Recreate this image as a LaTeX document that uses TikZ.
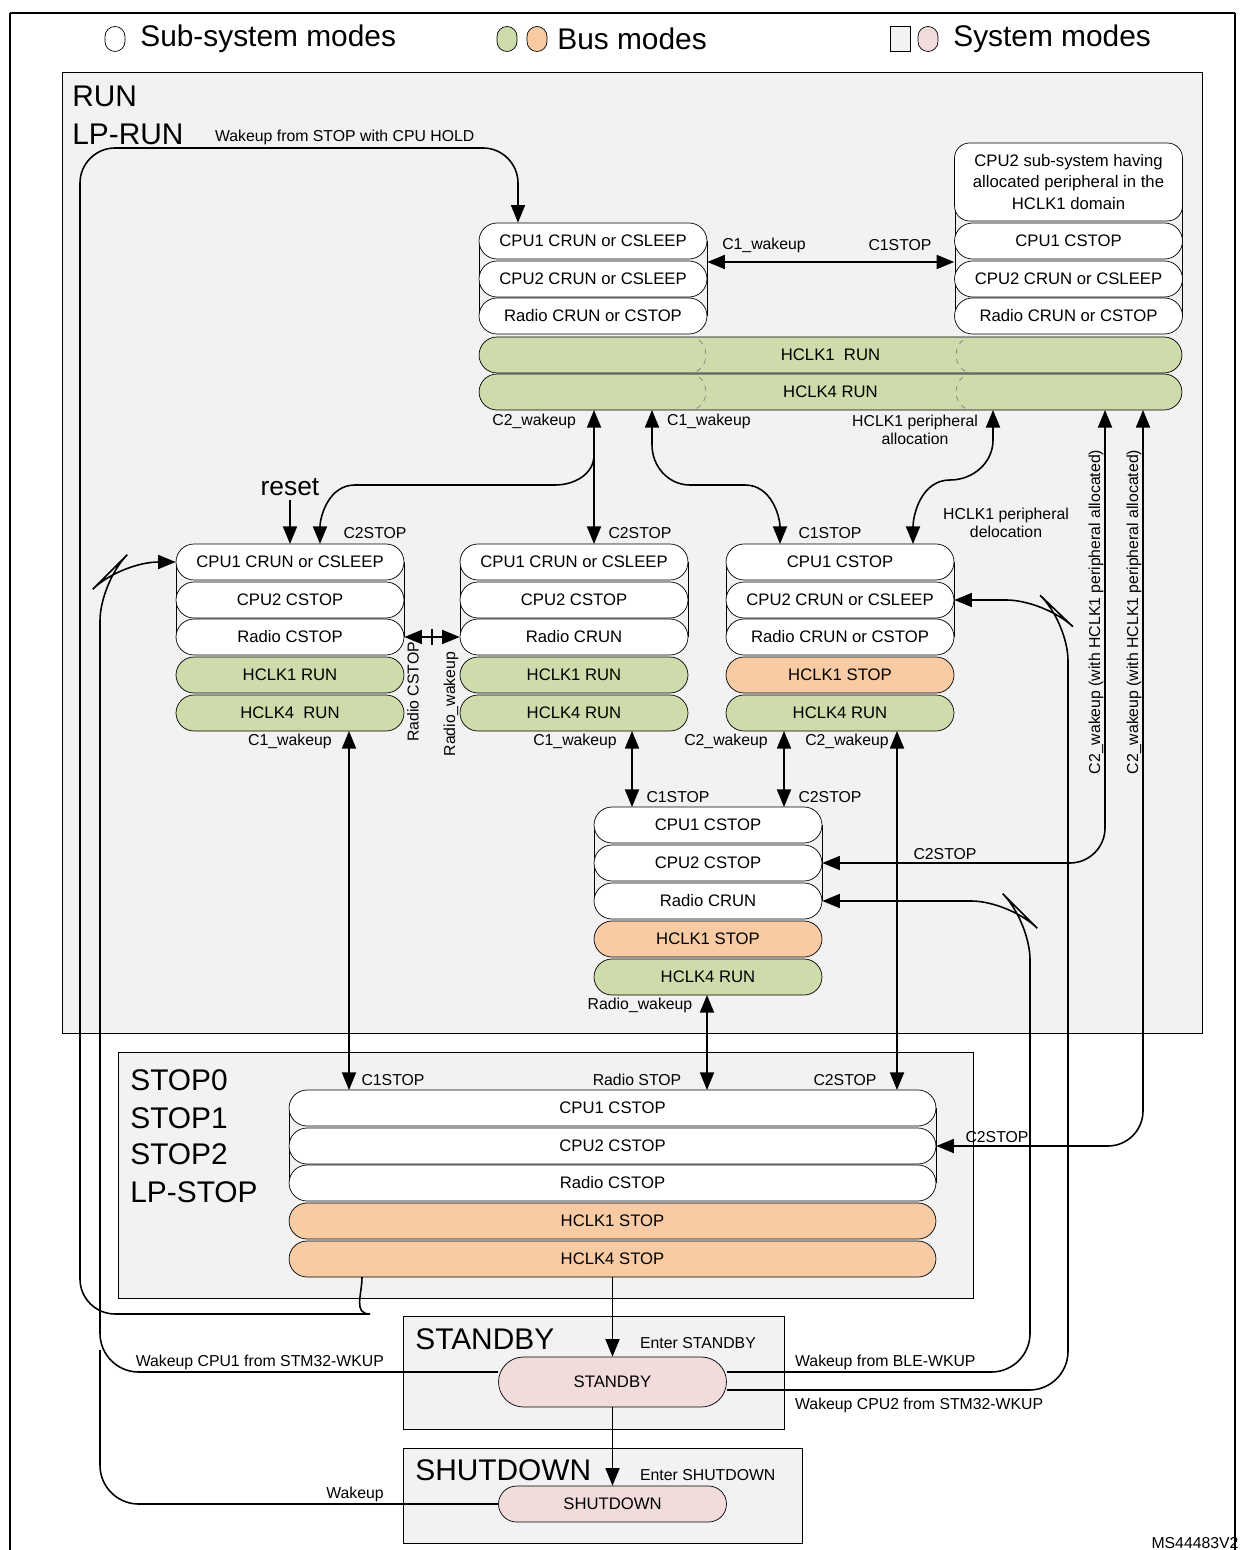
\documentclass[tikz,border=0pt]{standalone}
\usepackage{fontspec}
\setmainfont{Liberation Sans}
\usetikzlibrary{arrows.meta}
\definecolor{gbus}{HTML}{CDDCAA}
\definecolor{obus}{HTML}{F9CBA4}
\definecolor{psys}{HTML}{F2DCDB}
\definecolor{bsys}{HTML}{F2F2F2}
\tikzset{
 row/.style={draw,rounded corners=0.36cm,minimum height=0.72cm,inner sep=0pt,font=\fontsize{9.5}{11}\selectfont},
 w228/.style={minimum width=4.56cm},
 sysbox/.style={draw,fill=bsys},
 big/.style={font=\fontsize{17}{19}\selectfont,anchor=west,inner sep=0pt},
 lbl/.style={font=\fontsize{9}{10.5}\selectfont,inner sep=1pt},
 con/.style={line width=0.9pt},
 tip/.style={-{Triangle[length=10pt,width=8pt]}},
 both/.style={{Triangle[length=10pt,width=8pt]}-{Triangle[length=10pt,width=8pt]}},
 tipr/.style={{Triangle[length=10pt,width=8pt]}-},
}
\begin{document}
\begin{tikzpicture}[x=0.02cm,y=-0.02cm]
\useasboundingbox (0,0) rectangle (1242,1550);
\draw[line width=1pt] (10,13) -- (1235,13) (10,13) -- (10,1560) (1235,13) -- (1235,1560);
% legend
\node[draw,rounded corners=0.2cm,minimum width=0.4cm,minimum height=0.5cm,inner sep=0] (lg1) at (115,39) {};
\node[big] (lt1) at (140,39) {Sub-system modes};
\node[draw,fill=gbus,rounded corners=0.2cm,minimum width=0.4cm,minimum height=0.5cm,inner sep=0] (lg2) at (507,39) {};
\node[draw,fill=obus,rounded corners=0.2cm,minimum width=0.4cm,minimum height=0.5cm,inner sep=0] (lg3) at (537,39) {};
\node[big] (lt2) at (557,39) {Bus modes};
\node[draw,fill=bsys,minimum width=0.4cm,minimum height=0.5cm,inner sep=0] (lg4) at (900,39) {};
\node[draw,fill=psys,rounded corners=0.2cm,minimum width=0.4cm,minimum height=0.5cm,inner sep=0] (lg5) at (928,39) {};
\node[big] (lt3) at (953,39) {System modes};
% system boxes
\draw[sysbox] (62,72) rectangle (1202,1033);
\draw[sysbox] (118,1052) rectangle (973,1298);
\draw[sysbox] (403,1316) rectangle (784,1429);
\draw[sysbox] (403,1448) rectangle (802,1543);
\node[big] (trun) at (72,96) {RUN};
\node[big] (tlprun) at (72,134) {LP-RUN};
\node[big] (ts0) at (130,1080) {STOP0};
\node[big] (ts1) at (130,1118) {STOP1};
\node[big] (ts2) at (130,1154) {STOP2};
\node[big] (ts3) at (130,1192) {LP-STOP};
\node[big] (tsb) at (415,1339) {STANDBY};
\node[big] (tsd) at (415,1470) {SHUTDOWN};
% top stacks
\draw (479,241) -- (479,316) (707,241) -- (707,316);
\node[row,w228,fill=white] (t1) at (593,241) {CPU1 CRUN or CSLEEP};
\node[row,w228,fill=white] (t2) at (593,279) {CPU2 CRUN or CSLEEP};
\node[row,w228,fill=white] (t3) at (593,316) {Radio CRUN or CSTOP};
\draw (955,182) -- (955,316) (1182,182) -- (1182,316);
\node[draw,fill=white,rounded corners=0.3cm,minimum width=4.56cm,minimum height=1.56cm,align=center,font=\fontsize{9.5}{12}\selectfont,inner sep=0] (r0) at (1068.5,182) {CPU2 sub-system having\\allocated peripheral in the\\HCLK1 domain};
\node[row,w228,fill=white] (r1) at (1068.5,241) {CPU1 CSTOP};
\node[row,w228,fill=white] (r2) at (1068.5,279) {CPU2 CRUN or CSLEEP};
\node[row,w228,fill=white] (r3) at (1068.5,316) {Radio CRUN or CSTOP};
\node[row,minimum width=14.06cm,fill=gbus] (b1) at (830.5,355) {HCLK1\ \ RUN};
\node[row,minimum width=14.06cm,fill=gbus] (b2) at (830.5,392) {HCLK4 RUN};
\foreach \y in {337,374}{
 \draw[gray,dashed] (689,\y) to[out=0,in=0,looseness=1.6] (689,\y+36);
 \draw[gray,dashed] (973,\y) to[out=180,in=180,looseness=1.6] (973,\y+36);
}
% stack A
\draw (176,562) -- (176,637) (404,562) -- (404,637);
\node[row,w228,fill=white] (a1) at (290,562) {CPU1 CRUN or CSLEEP};
\node[row,w228,fill=white] (a2) at (290,600) {CPU2 CSTOP};
\node[row,w228,fill=white] (a3) at (290,637) {Radio CSTOP};
\node[row,w228,fill=gbus] (a4) at (290,675) {HCLK1 RUN};
\node[row,w228,fill=gbus] (a5) at (290,713) {HCLK4\ \ RUN};
% stack B
\draw (460,562) -- (460,637) (688,562) -- (688,637);
\node[row,w228,fill=white] (c1) at (574,562) {CPU1 CRUN or CSLEEP};
\node[row,w228,fill=white] (c2) at (574,600) {CPU2 CSTOP};
\node[row,w228,fill=white] (c3) at (574,637) {Radio CRUN};
\node[row,w228,fill=gbus] (c4) at (574,675) {HCLK1 RUN};
\node[row,w228,fill=gbus] (c5) at (574,713) {HCLK4 RUN};
% stack C
\draw (726,562) -- (726,637) (954,562) -- (954,637);
\node[row,w228,fill=white] (d1) at (840,562) {CPU1 CSTOP};
\node[row,w228,fill=white] (d2) at (840,600) {CPU2 CRUN or CSLEEP};
\node[row,w228,fill=white] (d3) at (840,637) {Radio CRUN or CSTOP};
\node[row,w228,fill=obus] (d4) at (840,675) {HCLK1 STOP};
\node[row,w228,fill=gbus] (d5) at (840,713) {HCLK4 RUN};
% stack D
\draw (594,825) -- (594,901) (822,825) -- (822,901);
\node[row,w228,fill=white] (e1) at (708,825) {CPU1 CSTOP};
\node[row,w228,fill=white] (e2) at (708,863) {CPU2 CSTOP};
\node[row,w228,fill=white] (e3) at (708,901) {Radio CRUN};
\node[row,w228,fill=obus] (e4) at (708,939) {HCLK1 STOP};
\node[row,w228,fill=gbus] (e5) at (708,977) {HCLK4 RUN};
% STOP stack
\draw (289,1108) -- (289,1183) (936,1108) -- (936,1183);
\node[row,minimum width=12.94cm,fill=white] (s1) at (612.5,1108) {CPU1 CSTOP};
\node[row,minimum width=12.94cm,fill=white] (s2) at (612.5,1146) {CPU2 CSTOP};
\node[row,minimum width=12.94cm,fill=white] (s3) at (612.5,1183) {Radio CSTOP};
\node[row,minimum width=12.94cm,fill=obus] (s4) at (612.5,1221) {HCLK1 STOP};
\node[row,minimum width=12.94cm,fill=obus] (s5) at (612.5,1259) {HCLK4 STOP};
% standby / shutdown
\node[row,w228,fill=psys,minimum height=1cm,rounded corners=0.5cm] (sb) at (612.5,1382) {STANDBY};
\node[row,w228,fill=psys] (sd) at (612.5,1504) {SHUTDOWN};
% ---- connectors
\draw[con,tip,rounded corners=20] (362,1277) to[out=-90,in=0] (335,1314) -- (80,1314) -- (80,148) -- (518,148) -- (t1.north -| 518,0);
\node[lbl,anchor=west] (l1) at (213,137) {Wakeup from STOP with CPU HOLD};
\draw[con,both] (t2.east |- 0,262) -- (r2.west |- 0,262);
\node[lbl] (l2) at (764,245) {C1\_wakeup};
\node[lbl] (l3) at (900,245) {C1STOP};
% C2_wakeup from A/B
\draw[con,both] (594,410) -- (594,544);
\draw[con,tip] (594,455) to[out=-90,in=0] (555,485) -- (355,485) to[out=180,in=90] (320,544);
\node[lbl,anchor=east] (l4) at (578,421) {C2\_wakeup};
\node[lbl] (l5) at (290,487) {\fontsize{15}{16}\selectfont reset};
\draw[con,tip] (290,500) -- (290,544);
\node[lbl] (l6) at (375,533) {C2STOP};
\node[lbl] (l7) at (640,533) {C2STOP};
% C1_wakeup to C
\draw[con,both] (652,410) -- (652,445) to[out=-90,in=180] (690,485) -- (745,485) to[out=0,in=90] (780,544);
\node[lbl,anchor=west] (l8) at (665,421) {C1\_wakeup};
\node[lbl] (l9) at (830,533) {C1STOP};
% allocation
\draw[con,both] (993,410) -- (993,440) to[out=-90,in=0] (950,480) to[out=180,in=90] (913,544);
\node[lbl,align=center] (l10) at (915,430) {HCLK1 peripheral\\allocation};
\node[lbl,align=center] (l11) at (1006,523) {HCLK1 peripheral\\delocation};
% radio between A and B
\draw[con,both] (a3.east) -- (c3.west);
\draw[con] (432,629) -- (432,645);
\node[lbl,rotate=90] (l12) at (413,692) {Radio CSTOP};
\node[lbl,rotate=90] (l13) at (451,704) {Radio\_wakeup};
% lower vertical links
\draw[con,both] (349,731) -- (349,1090);
\node[lbl] (l14) at (290,741) {C1\_wakeup};
\node[lbl] (l15) at (393,1080) {C1STOP};
\draw[con,both] (632,731) -- (632,807);
\node[lbl] (l16) at (575,741) {C1\_wakeup};
\node[lbl] (l17) at (678,797) {C1STOP};
\draw[con,both] (784,731) -- (784,807);
\node[lbl] (l18) at (726,741) {C2\_wakeup};
\node[lbl] (l19) at (830,797) {C2STOP};
\draw[con,both] (897,731) -- (897,1090);
\node[lbl] (l20) at (847,741) {C2\_wakeup};
\node[lbl] (l21) at (845,1080) {C2STOP};
\draw[con,both] (707,995) -- (707,1090);
\node[lbl] (l22) at (640,1005) {Radio\_wakeup};
\node[lbl] (l23) at (637,1080) {Radio STOP};
% C2_wakeup with HCLK1 allocated
\draw[con,both,rounded corners=20] (e2.east) -- (1105,863) -- (1105,410);
\node[lbl] (l24) at (945,854) {C2STOP};
\node[lbl,rotate=90] (l25) at (1096,612) {C2\_wakeup (with HCLK1 peripheral allocated)};
\draw[con,both,rounded corners=20] (s2.east) -- (1143,1146) -- (1143,410);
\node[lbl] (l26) at (997,1137) {C2STOP};
\node[lbl,rotate=90] (l27) at (1134,612) {C2\_wakeup (with HCLK1 peripheral allocated)};
% wakeups from standby
\draw[con,tipr,rounded corners=22] (d2.east) -- (1045,600) -- (1068,622) -- (1068,1390) -- (727,1390);
\node[lbl,anchor=west] (l28) at (793,1405) {Wakeup CPU2 from STM32-WKUP};
\draw[con,tipr,rounded corners=22] (e3.east) -- (1010,901) -- (1030,921) -- (1030,1372) -- (727,1372);
\node[lbl,anchor=west] (l29) at (793,1362) {Wakeup from BLE-WKUP};
\draw[con,tipr,rounded corners=22] (a1.west) -- (120,562) -- (100,582) -- (100,1372) -- (sb.west |- 0,1372);
\node[lbl,anchor=east] (l30) at (386,1362) {Wakeup CPU1 from STM32-WKUP};
\draw[con,rounded corners=22] (100,1350) -- (100,1504) -- (sd.west);
\node[lbl] (l31) at (355,1494) {Wakeup};
% enter
\draw[con,tip] (s5.south) -- (sb.north);
\node[lbl,anchor=west] (l32) at (638,1343) {Enter STANDBY};
\draw[con,tip] (sb.south) -- (sd.north);
\node[lbl,anchor=west] (l33) at (638,1475) {Enter SHUTDOWN};
\node[lbl] (l34) at (1195,1543) {MS44483V2};
\end{tikzpicture}
\end{document}
